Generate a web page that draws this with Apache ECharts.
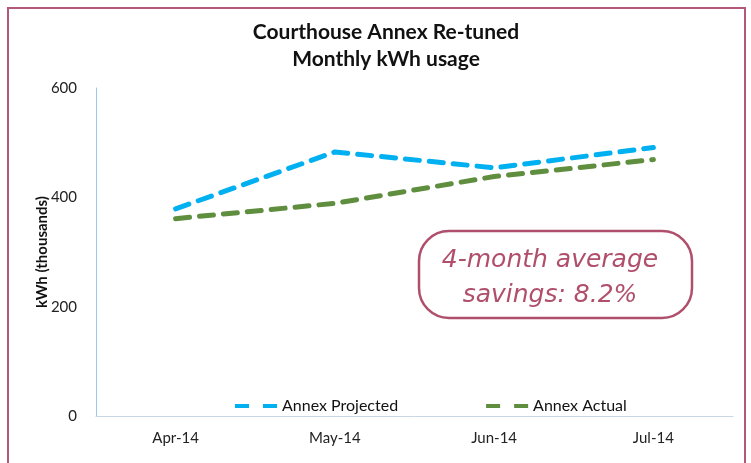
<!DOCTYPE html>
<html><head><meta charset="utf-8">
<script src="https://cdn.jsdelivr.net/npm/echarts@6/dist/echarts.min.js"></script>
<style>html,body{margin:0;padding:0;background:#fff}#c{width:751px;height:463px}</style>
</head><body><div id="c"></div>
<script>
const categories = ['Apr-14', 'May-14', 'Jun-14', 'Jul-14'];
const projected = [379, 483, 454, 491];
const actual = [361, 389, 438, 469];
const yTicks = [0, 200, 400, 600];

const chart = echarts.init(document.getElementById('c'));
const font = 'Lato, "Open Sans", sans-serif';
chart.setOption({
  animation: false,
  backgroundColor: '#fff',
  title: {
    text: 'Courthouse Annex Re-tuned\nMonthly kWh usage',
    left: 381, textAlign: 'center', top: 14,
    textStyle: { fontFamily: font, fontSize: 21, fontWeight: 'bold', color: '#111', lineHeight: 27 }
  },
  legend: {
    left: 230, top: 393, itemGap: 88, itemWidth: 42, itemHeight: 8,
    icon: 'path://M0,0H14V4H0Z M28,0H42V4H28Z',
    textStyle: { fontFamily: font, fontSize: 16, color: '#111' },
    data: ['Annex Projected', 'Annex Actual']
  },
  grid: { left: 96, right: 18, top: 88, bottom: 47, containLabel: false },
  xAxis: {
    type: 'category', data: categories, boundaryGap: true,
    axisLine: { lineStyle: { color: '#c9d6e3', width: 1 } },
    axisTick: { show: false },
    axisLabel: { fontFamily: font, fontSize: 15, color: '#222', margin: 15 }
  },
  yAxis: {
    type: 'value', min: yTicks[0], max: yTicks[yTicks.length - 1], interval: 200,
    name: 'kWh (thousands)', nameLocation: 'middle', nameGap: 46, nameRotate: 90,
    nameMoveOverlap: false,
    nameTextStyle: { fontFamily: font, fontSize: 15, fontWeight: 'bold', color: '#111' },
    axisLine: { show: true, lineStyle: { color: '#9cc8ee', width: 1 } },
    axisTick: { show: false },
    splitLine: { show: false },
    axisLabel: { fontFamily: font, fontSize: 15, color: '#222', margin: 19 }
  },
  series: [
    { name: 'Annex Projected', type: 'line', data: projected, symbol: 'none',
      color: '#00b0f0',
      lineStyle: { color: '#00b0f0', width: 5, type: [14, 10], cap: 'round' } },
    { name: 'Annex Actual', type: 'line', data: actual, symbol: 'none',
      color: '#5e8e3e',
      lineStyle: { color: '#5e8e3e', width: 5, type: [14, 10], cap: 'round' } }
  ],
  graphic: [
    { type: 'rect', shape: { x: 8, y: 8, width: 737, height: 470 },
      style: { fill: 'none', stroke: '#b3587a', lineWidth: 2 }, z: 10 },
    { type: 'rect', shape: { x: 419, y: 231, width: 273, height: 87, r: 30 },
      style: { fill: '#fff', stroke: '#b04f6c', lineWidth: 2.5 }, z: 10 },
    { type: 'text', x: 550, y: 278, z: 11,
      style: { text: '4-month average\nsavings: 8.2%', fill: '#b04f6c', align: 'center', verticalAlign: 'middle',
        font: 'italic 25px "DejaVu Sans", sans-serif', lineHeight: 35 } }
  ]
});
</script></body></html>
